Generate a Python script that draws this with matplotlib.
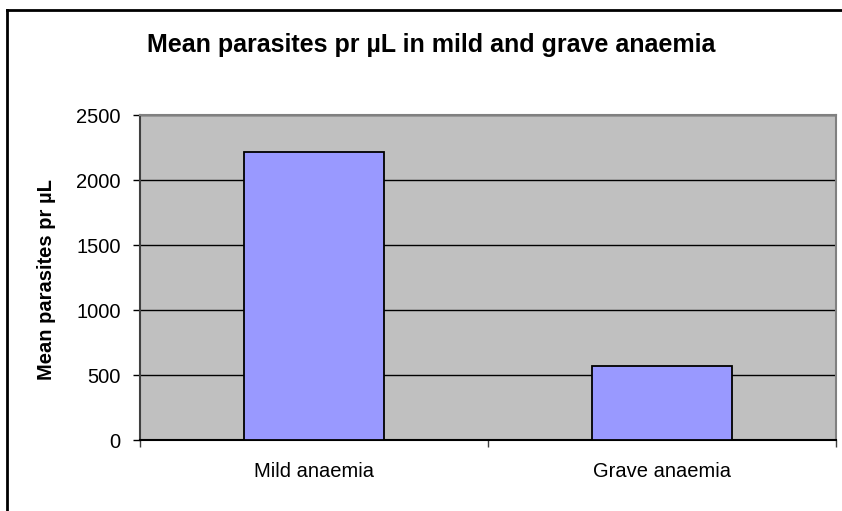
import matplotlib
matplotlib.use("Agg")
import matplotlib.pyplot as plt
from matplotlib.lines import Line2D

############   DATA   #############
categories = ["Mild anaemia", "Grave anaemia"]
mean_parasites = [2220, 570]
y_ticks = [0, 500, 1000, 1500, 2000, 2500]

plt.rcParams['font.family'] = ['Liberation Sans', 'DejaVu Sans']

W, H = 842, 511
fig = plt.figure(figsize=(W / 100, H / 100), dpi=100)
ax = fig.add_axes([140 / W, (H - 440) / H, 696 / W, 324.5 / H])

x = range(len(categories))
ax.bar(x, mean_parasites, width=0.402, color="#9999FF", edgecolor="black", linewidth=1.3, zorder=3)

ax.set_facecolor("#C0C0C0")
ax.set_xlim(-0.5, len(categories) - 0.5)
ax.set_ylim(0, 2500)
ax.set_yticks(y_ticks)
ax.set_yticklabels([str(t) for t in y_ticks], fontsize=14.5)
ax.yaxis.grid(True, color="black", linewidth=1.0, zorder=1)
ax.set_axisbelow(True)

# category labels, ticks at category boundaries
ax.set_xticks([0.5 * i - 0.5 for i in range(0, 2 * len(categories) + 1, 2)])
ax.set_xticklabels([])
ax.set_xticks(list(x), minor=True)
ax.set_xticklabels(categories, minor=True, fontsize=14.5)
ax.tick_params(axis="x", which="minor", length=0, pad=15.5)
ax.tick_params(axis="x", which="major", length=5, width=1, color="#404040")
ax.tick_params(axis="y", length=5, width=1, pad=9)

for side in ["top", "right"]:
    ax.spines[side].set_color("#808080")
    ax.spines[side].set_linewidth(1.5)
ax.spines["left"].set_color("#404040")
ax.spines["left"].set_linewidth(1.5)
ax.spines["bottom"].set_color("black")
ax.spines["bottom"].set_linewidth(1.5)

fig.text(47 / W, 1 - 280 / H, "Mean parasites pr µL", rotation=90,
         fontsize=14.5, fontweight="bold", ha="center", va="center")
fig.text(431 / W, 1 - 51.7 / H, "Mean parasites pr µL in mild and grave anaemia",
         fontsize=18, fontweight="bold", ha="center", va="baseline")

# outer chart border (cut off at right and bottom)
fig.add_artist(Line2D([7 / W, 1], [1 - 10 / H, 1 - 10 / H], color="black", linewidth=2, transform=fig.transFigure))
fig.add_artist(Line2D([7 / W, 7 / W], [0, 1 - 10 / H], color="black", linewidth=2, transform=fig.transFigure))

fig.savefig("out.png", dpi=100)
